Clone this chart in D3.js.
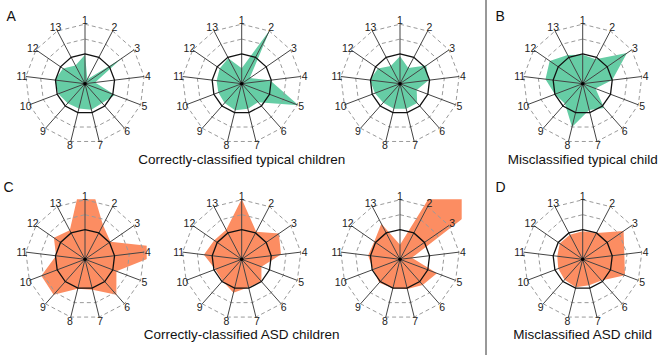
<!DOCTYPE html>
<html>
<head>
<meta charset="utf-8">
<script src="https://cdn.jsdelivr.net/npm/d3@7"></script>
<style>
  html, body { margin: 0; padding: 0; background: #fff; }
  svg { display: block; font-family: "Liberation Sans", Arial, Helvetica, sans-serif; }
</style>
</head>
<body>
<svg id="chart" width="668" height="355"></svg>
<script>
// ---- data ----
const axisLabels = ["1","2","3","4","5","6","7","8","9","10","11","12","13"];
const ringLevels = [1.5, 2];      // dashed rings
const refLevel = 1;               // solid ring
const maxLevel = 2;

const typicalCorrect1 = [0.97, 0.17, 1.48, 0.34, 1.08, 0.87, 0.9, 0.86, 0.88, 0.96, 1.02, 0.9, 0.69];
const typicalCorrect2 = [0.52, 2.05, 0.33, 0.96, 2.04, 0.83, 0.87, 0.92, 0.87, 0.84, 0.85, 0.9, 0.97];
const typicalCorrect3 = [0.92, 0.6, 1.07, 0.97, 0.6, 0.87, 0.87, 0.87, 0.85, 0.9, 1.02, 0.9, 0.67];
const typicalMis      = [0.97, 0.93, 1.81, 1.0, 0.46, 1.09, 0.91, 1.5, 0.9, 1.0, 1.26, 1.35, 1.09];
const asdCorrect1     = [3.2, 1.3, 1.04, 3.0, 1.13, 1.59, 1.05, 1.02, 1.59, 1.57, 0.98, 1.27, 1.1];
const asdCorrect2     = [2.03, 1.05, 1.52, 1.33, 0.71, 1.0, 0.97, 1.16, 0.97, 0.95, 1.28, 1.12, 1.12];
const asdCorrect3     = [0.49, 3.6, 3.8, 0.4, 1.33, 1.15, 1.03, 1.0, 1.05, 0.97, 1.08, 1.05, 1.35];
const asdMis          = [0.94, 1.0, 1.67, 1.41, 1.52, 0.95, 0.9, 0.97, 0.92, 0.88, 0.86, 0.94, 0.93];

const panelLetters = ["A", "B", "C", "D"];
const titles = ["Correctly-classified typical children", "Misclassified typical child",
                "Correctly-classified ASD children", "Misclassified ASD child"];

const greenFill = "#66cda5";
const orangeFill = "#fc8d62";

// ---- layout ----
const svg = d3.select("#chart");
const R = 59.5;
const colX = [85, 241.7, 400, 582.7];
const rowY = [83.7, 259.3];

const charts = [
  {data: typicalCorrect1, col: 0, row: 0, color: greenFill},
  {data: typicalCorrect2, col: 1, row: 0, color: greenFill},
  {data: typicalCorrect3, col: 2, row: 0, color: greenFill},
  {data: typicalMis,      col: 3, row: 0, color: greenFill},
  {data: asdCorrect1,     col: 0, row: 1, color: orangeFill},
  {data: asdCorrect2,     col: 1, row: 1, color: orangeFill},
  {data: asdCorrect3,     col: 2, row: 1, color: orangeFill},
  {data: asdMis,          col: 3, row: 1, color: orangeFill}
];

const n = axisLabels.length;
const angle = d3.scaleLinear().domain([0, n]).range([0, 2 * Math.PI]);
const r = d3.scaleLinear().domain([0, maxLevel]).range([0, R]);

const radialLine = d3.lineRadial()
  .angle((d, i) => angle(i))
  .radius(d => r(d))
  .curve(d3.curveLinearClosed);

const ringLine = lvl => radialLine(axisLabels.map(() => lvl));

const defs = svg.append("defs");
defs.append("clipPath").attr("id", "plotclip")
  .append("rect").attr("x", -61.7).attr("y", -60).attr("width", 123.4).attr("height", 123.4);

charts.forEach(c => {
  const g = svg.append("g").attr("transform", `translate(${colX[c.col]},${rowY[c.row]})`);
  // data polygon
  g.append("path")
    .attr("d", radialLine(c.data))
    .attr("fill", c.color)
    .attr("stroke", "none")
    .attr("clip-path", "url(#plotclip)");
  // dashed rings
  ringLevels.forEach(lvl => {
    g.append("path").attr("d", ringLine(lvl))
      .attr("fill", "none").attr("stroke", "#9a9a9a")
      .attr("stroke-width", 1).attr("stroke-dasharray", "4,3");
  });
  // spokes
  axisLabels.forEach((lab, i) => {
    const a = angle(i);
    g.append("line")
      .attr("x1", 0).attr("y1", 0)
      .attr("x2", r(maxLevel) * Math.sin(a)).attr("y2", -r(maxLevel) * Math.cos(a))
      .attr("stroke", "#444").attr("stroke-width", 1);
  });
  // solid ring
  g.append("path").attr("d", ringLine(refLevel))
    .attr("fill", "none").attr("stroke", "#111").attr("stroke-width", 1.3);
  // center dot
  g.append("circle").attr("r", 1.8).attr("fill", "#000");
  // axis labels
  axisLabels.forEach((lab, i) => {
    const a = angle(i);
    const lr = R + 4;
    g.append("text")
      .attr("x", lr * Math.sin(a)).attr("y", -lr * Math.cos(a))
      .attr("text-anchor", "middle").attr("dominant-baseline", "central")
      .attr("font-size", 10.5).attr("fill", "#222")
      .text(lab);
  });
});

// titles
svg.append("text").attr("x", colX[1]).attr("y", 163.5).attr("text-anchor", "middle")
  .attr("font-size", 13.5).attr("fill", "#111").text(titles[0]);
svg.append("text").attr("x", colX[3]).attr("y", 163.5).attr("text-anchor", "middle")
  .attr("font-size", 13.5).attr("fill", "#111").text(titles[1]);
svg.append("text").attr("x", colX[1]).attr("y", 339).attr("text-anchor", "middle")
  .attr("font-size", 13.5).attr("fill", "#111").text(titles[2]);
svg.append("text").attr("x", colX[3]).attr("y", 339).attr("text-anchor", "middle")
  .attr("font-size", 13.5).attr("fill", "#111").text(titles[3]);

// panel letters
const letterPos = [[6.5, 20.5], [495.5, 20.5], [3.5, 191.5], [495.5, 191.5]];
panelLetters.forEach((l, i) => {
  svg.append("text").attr("x", letterPos[i][0]).attr("y", letterPos[i][1])
    .attr("font-size", 14).attr("fill", "#111").text(l);
});

// separator
svg.append("line").attr("x1", 486).attr("x2", 486).attr("y1", 0).attr("y2", 355)
  .attr("stroke", "#333").attr("stroke-width", 1);
</script>
</body>
</html>
